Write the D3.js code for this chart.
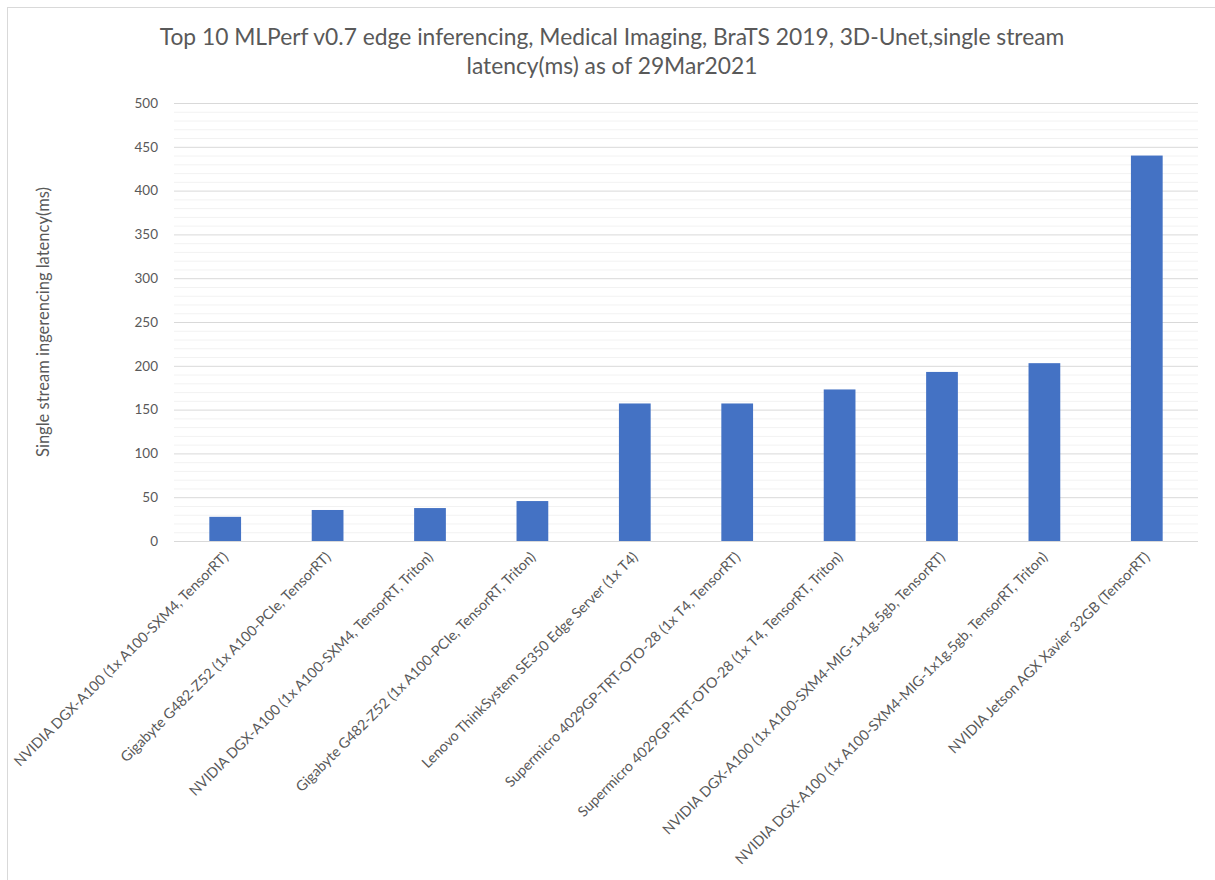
<!DOCTYPE html>
<html>
<head>
<meta charset="utf-8">
<script src="https://cdn.jsdelivr.net/npm/d3@7"></script>
<style>
  body { margin: 0; background: #fff; overflow: hidden; }
  text { font-family: Lato, "Open Sans", sans-serif; fill: #595959; }
</style>
</head>
<body>
<div id="chart"></div>
<script>
var categories = [
  "NVIDIA DGX-A100 (1x A100-SXM4, TensorRT)",
  "Gigabyte G482-Z52 (1x A100-PCIe, TensorRT)",
  "NVIDIA DGX-A100 (1x A100-SXM4, TensorRT, Triton)",
  "Gigabyte G482-Z52 (1x A100-PCIe, TensorRT, Triton)",
  "Lenovo ThinkSystem SE350 Edge Server (1x T4)",
  "Supermicro 4029GP-TRT-OTO-28 (1x T4, TensorRT)",
  "Supermicro 4029GP-TRT-OTO-28 (1x T4, TensorRT, Triton)",
  "NVIDIA DGX-A100 (1x A100-SXM4-MIG-1x1g.5gb, TensorRT)",
  "NVIDIA DGX-A100 (1x A100-SXM4-MIG-1x1g.5gb, TensorRT, Triton)",
  "NVIDIA Jetson AGX Xavier 32GB (TensorRT)"
];
var latency = [27.6, 35.4, 37.6, 45.6, 157, 157, 173, 193, 203, 440];
var yTicks = [0, 50, 100, 150, 200, 250, 300, 350, 400, 450, 500];
var titleLines = [
  "Top 10 MLPerf v0.7 edge inferencing, Medical Imaging, BraTS 2019, 3D-Unet,single stream",
  "latency(ms) as of 29Mar2021"
];
var yTitle = "Single stream ingerencing latency(ms)";

var width = 1215, height = 880;
var margin = {top: 103, left: 174, right: 17, bottom: 339};

var svg = d3.select("#chart").append("svg")
  .attr("width", width)
  .attr("height", height)
  .style("display", "block");

// chart border, runs off the right and bottom edge like the source
svg.append("rect")
  .attr("x", 7.5).attr("y", 7.5)
  .attr("width", 1230).attr("height", 900)
  .attr("fill", "#fff")
  .attr("stroke", "#d9d9d9");

var x = d3.scaleBand()
  .domain(categories)
  .range([margin.left, width - margin.right])
  .paddingInner(0.69)
  .paddingOuter(0.345);

var y = d3.scaleLinear()
  .domain([0, 500])
  .range([height - margin.bottom, margin.top]);

// minor gridlines every 10
var g = svg.append("g");
g.selectAll("line.minor")
  .data(d3.range(10, 500, 10).filter(function(d) { return d % 50 != 0; }))
  .enter().append("line")
  .attr("class", "minor")
  .attr("x1", margin.left).attr("x2", width - margin.right)
  .attr("y1", function(d) { return y(d) + 0.5; })
  .attr("y2", function(d) { return y(d) + 0.5; })
  .attr("stroke", "#f2f2f2");

g.selectAll("line.major")
  .data(yTicks)
  .enter().append("line")
  .attr("class", "major")
  .attr("x1", margin.left).attr("x2", width - margin.right)
  .attr("y1", function(d) { return y(d) + 0.5; })
  .attr("y2", function(d) { return y(d) + 0.5; })
  .attr("stroke", "#d9d9d9");

// y axis labels
var yAxis = svg.append("g")
  .attr("transform", "translate(" + (margin.left - 16) + ",0)")
  .call(d3.axisLeft(y).tickValues(yTicks).tickSize(0).tickPadding(0));
yAxis.select(".domain").remove();
yAxis.selectAll("text")
  .attr("font-size", "13.5px")
  .style("font-family", "Lato, sans-serif")
  .attr("fill", "#595959");

// bars
svg.selectAll("rect.bar")
  .data(latency)
  .enter().append("rect")
  .attr("class", "bar")
  .attr("x", function(d, i) { return x(categories[i]); })
  .attr("width", x.bandwidth())
  .attr("y", function(d) { return y(d); })
  .attr("height", function(d) { return y(0) - y(d); })
  .attr("fill", "#4472c4");

// baseline
svg.append("line")
  .attr("x1", margin.left).attr("x2", width - margin.right)
  .attr("y1", y(0) + 0.5).attr("y2", y(0) + 0.5)
  .attr("stroke", "#d9d9d9");

// x axis labels
var xAxis = svg.append("g")
  .attr("transform", "translate(0," + (y(0)) + ")")
  .call(d3.axisBottom(x).tickSize(0).tickPadding(0));
xAxis.select(".domain").remove();
xAxis.selectAll("text")
  .attr("font-size", "14.3px")
  .style("font-family", "Lato, sans-serif")
  .attr("fill", "#595959")
  .attr("text-anchor", "end")
  .attr("dy", "0")
  .attr("transform", "translate(4,17) rotate(-45)");

// title
svg.append("g").selectAll("text")
  .data(titleLines)
  .enter().append("text")
  .attr("x", 612)
  .attr("y", function(d, i) { return 45 + i * 29; })
  .attr("text-anchor", "middle")
  .attr("font-size", "22.8px")
  .text(function(d) { return d; });

// y title
svg.append("text")
  .attr("transform", "translate(49," + ((y(0) + y(500)) / 2) + ") rotate(-90)")
  .attr("text-anchor", "middle")
  .attr("font-size", "16.5px")
  .text(yTitle);
</script>
</body>
</html>
